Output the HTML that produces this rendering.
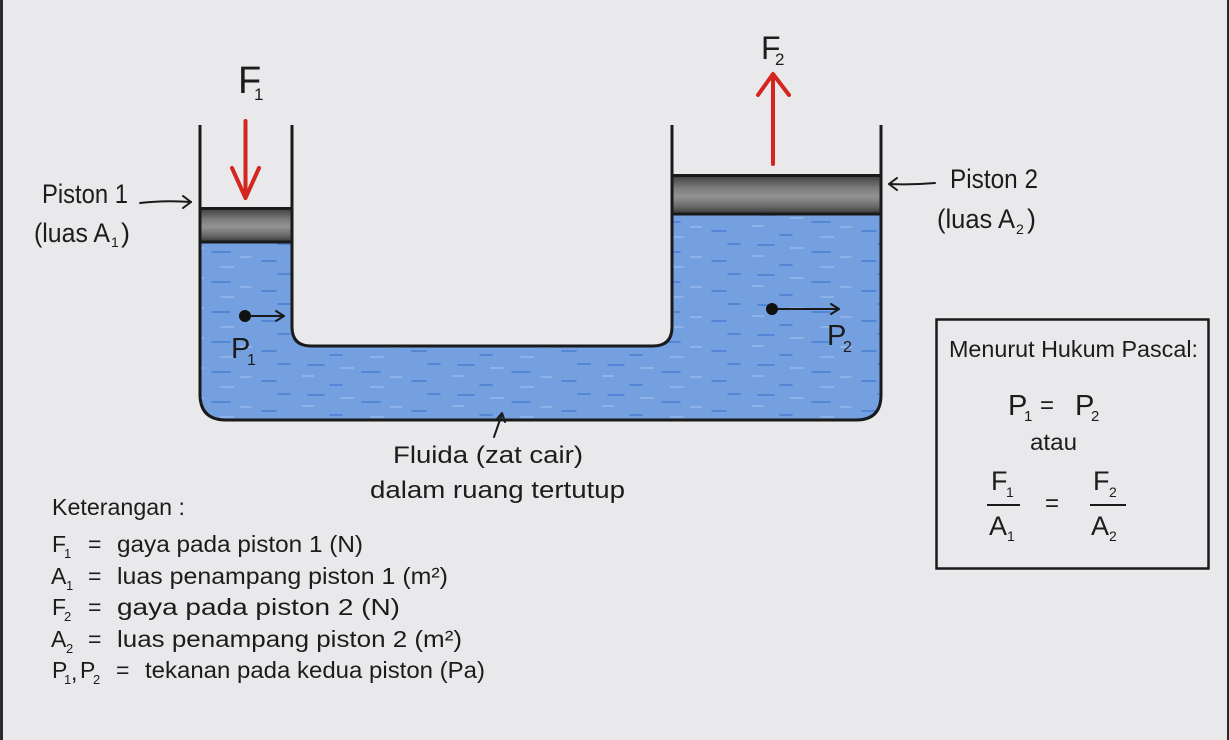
<!DOCTYPE html>
<html><head><meta charset="utf-8">
<style>
html,body{margin:0;padding:0;background:#e9e9eb;}
svg{display:block;}
text{font-family:"Liberation Sans",sans-serif;fill:#1c1c1c;}
</style></head>
<body>
<svg width="1229" height="740" viewBox="0 0 1229 740" xmlns="http://www.w3.org/2000/svg">
<defs>
  <linearGradient id="pg" x1="0" y1="0" x2="0" y2="1">
    <stop offset="0" stop-color="#3c3c3c"/>
    <stop offset="0.35" stop-color="#7e7e7e"/>
    <stop offset="0.55" stop-color="#939393"/>
    <stop offset="0.8" stop-color="#6a6a6a"/>
    <stop offset="1" stop-color="#383838"/>
  </linearGradient>
  <pattern id="dash" width="150" height="30" patternUnits="userSpaceOnUse">
    <g stroke="#2a67cc" stroke-width="1.5" stroke-linecap="round" opacity="0.6">
      <line x1="8" y1="5" x2="24" y2="5"/>
      <line x1="62" y1="12" x2="80" y2="12"/>
      <line x1="112" y1="21" x2="126" y2="21"/>
      <line x1="30" y1="25" x2="42" y2="25"/>
      <line x1="128" y1="4" x2="140" y2="4"/>
    </g>
    <g stroke="#b6cff2" stroke-width="1.4" opacity="0.55">
      <line x1="40" y1="8" x2="54" y2="8"/>
      <line x1="2" y1="16" x2="14" y2="16"/>
      <line x1="90" y1="17" x2="102" y2="17"/>
      <line x1="70" y1="27" x2="84" y2="27"/>
    </g>
  </pattern>
</defs>

<rect width="1229" height="740" fill="#e9e9eb"/>
<rect x="0" y="0" width="3" height="740" fill="#2a2a2a"/>
<rect x="1227" y="0" width="2" height="740" fill="#2a2a2a"/>

<!-- fluid -->
<path d="M200,242 L292,242 L292,327 Q292,346 311,346 L653,346 Q672,346 672,327 L672,214 L881,214 L881,395 Q881,420 856,420 L226,420 Q200,420 200,394 Z" fill="#74a0df"/>
<path d="M200,242 L292,242 L292,327 Q292,346 311,346 L653,346 Q672,346 672,327 L672,214 L881,214 L881,395 Q881,420 856,420 L226,420 Q200,420 200,394 Z" fill="url(#dash)"/>

<!-- pistons -->
<rect x="200" y="208" width="92" height="34" fill="url(#pg)"/>
<line x1="200" y1="208.5" x2="292" y2="208.5" stroke="#1a1a1a" stroke-width="3"/>
<line x1="200" y1="242" x2="292" y2="242" stroke="#1a1a1a" stroke-width="3"/>
<rect x="672" y="175" width="209" height="39" fill="url(#pg)"/>
<line x1="672" y1="175.5" x2="881" y2="175.5" stroke="#1a1a1a" stroke-width="3"/>
<line x1="672" y1="214" x2="881" y2="214" stroke="#1a1a1a" stroke-width="3"/>

<!-- container outline -->
<path d="M200,125 L200,394 Q200,420 226,420 L856,420 Q881,420 881,395 L881,125" fill="none" stroke="#1a1a1a" stroke-width="3"/>
<path d="M292,125 L292,327 Q292,346 311,346 L653,346 Q672,346 672,327 L672,125" fill="none" stroke="#1a1a1a" stroke-width="3"/>

<!-- red force arrows -->
<g stroke="#d3261f" stroke-width="4" fill="none" stroke-linecap="round" stroke-linejoin="round">
  <line x1="245.5" y1="121" x2="245.5" y2="197"/>
  <path d="M232,168 L245.5,198 L259,168"/>
  <line x1="773" y1="164" x2="773" y2="76"/>
  <path d="M758,95 L773,74 L789,95"/>
</g>

<!-- black pointer arrows -->
<g stroke="#1a1a1a" stroke-width="2" fill="none" stroke-linecap="round" stroke-linejoin="round">
  <path d="M140,203 Q165,200 191,202"/>
  <path d="M183,196 L191,202 L183,208"/>
  <path d="M935,183 Q912,185 889,184"/>
  <path d="M897,178 L889,184 L897,190"/>
  <line x1="245" y1="316" x2="284" y2="316"/>
  <path d="M276,311 L284,316 L276,321"/>
  <line x1="772" y1="309" x2="839" y2="309"/>
  <path d="M831,304 L839,309 L831,314"/>
  <path d="M494,437 L502,414"/>
  <path d="M496,420 L502,413 L505,422"/>
</g>
<circle cx="245" cy="316" r="6" fill="#111"/>
<circle cx="772" cy="309" r="6" fill="#111"/>

<!-- force labels -->
<text x="238" y="93" font-size="38">F</text>
<text x="254" y="100" font-size="17">1</text>
<text x="761" y="59" font-size="32">F</text>
<text x="775" y="65" font-size="17">2</text>

<!-- piston labels -->
<text x="42" y="203" font-size="27" textLength="86" lengthAdjust="spacingAndGlyphs">Piston 1</text>
<text x="34" y="242" font-size="27" textLength="76" lengthAdjust="spacingAndGlyphs">(luas A</text>
<text x="111" y="247" font-size="14">1</text>
<text x="121" y="242" font-size="27">)</text>

<text x="950" y="188" font-size="27" textLength="88" lengthAdjust="spacingAndGlyphs">Piston 2</text>
<text x="937" y="228" font-size="27" textLength="78" lengthAdjust="spacingAndGlyphs">(luas A</text>
<text x="1016" y="234" font-size="14">2</text>
<text x="1027" y="228" font-size="27">)</text>

<!-- pressure labels -->
<text x="231" y="358" font-size="29">P</text>
<text x="247" y="365" font-size="16">1</text>
<text x="827" y="345" font-size="29">P</text>
<text x="843" y="352" font-size="16">2</text>

<!-- fluid label -->
<text x="393" y="463" font-size="24" textLength="190" lengthAdjust="spacingAndGlyphs">Fluida (zat cair)</text>
<text x="370" y="498" font-size="24" textLength="255" lengthAdjust="spacingAndGlyphs">dalam ruang tertutup</text>

<!-- Pascal box -->
<rect x="936.5" y="319.5" width="272" height="249" fill="none" stroke="#1a1a1a" stroke-width="2.5"/>
<text x="949" y="357" font-size="23" textLength="249" lengthAdjust="spacingAndGlyphs">Menurut Hukum Pascal:</text>
<text x="1008" y="415" font-size="29">P</text>
<text x="1024" y="421" font-size="15">1</text>
<text x="1040" y="413" font-size="24">=</text>
<text x="1075" y="415" font-size="29">P</text>
<text x="1091" y="421" font-size="15">2</text>
<text x="1030" y="450" font-size="23" textLength="47" lengthAdjust="spacingAndGlyphs">atau</text>

<text x="991" y="490" font-size="27">F</text>
<text x="1006" y="497" font-size="14">1</text>
<line x1="987" y1="505" x2="1020" y2="505" stroke="#1a1a1a" stroke-width="2"/>
<text x="989" y="535" font-size="27">A</text>
<text x="1007" y="541" font-size="14">1</text>
<text x="1045" y="511" font-size="24">=</text>
<text x="1093" y="490" font-size="27">F</text>
<text x="1109" y="497" font-size="14">2</text>
<line x1="1090" y1="505" x2="1126" y2="505" stroke="#1a1a1a" stroke-width="2"/>
<text x="1091" y="535" font-size="27">A</text>
<text x="1109" y="541" font-size="14">2</text>

<!-- legend -->
<text x="52" y="515" font-size="23" textLength="133" lengthAdjust="spacingAndGlyphs">Keterangan :</text>

<text x="52" y="552" font-size="23">F</text>
<text x="64" y="558" font-size="13">1</text>
<text x="88" y="552" font-size="23">=</text>
<text x="117" y="552" font-size="23" textLength="246" lengthAdjust="spacingAndGlyphs">gaya pada piston 1 (N)</text>

<text x="51" y="584" font-size="23">A</text>
<text x="66" y="590" font-size="13">1</text>
<text x="88" y="584" font-size="23">=</text>
<text x="117" y="584" font-size="23" textLength="331" lengthAdjust="spacingAndGlyphs">luas penampang piston 1 (m²)</text>

<text x="52" y="615" font-size="23">F</text>
<text x="64" y="621" font-size="13">2</text>
<text x="88" y="615" font-size="23">=</text>
<text x="117" y="615" font-size="23" textLength="283" lengthAdjust="spacingAndGlyphs">gaya pada piston 2 (N)</text>

<text x="51" y="647" font-size="23">A</text>
<text x="66" y="653" font-size="13">2</text>
<text x="88" y="647" font-size="23">=</text>
<text x="117" y="647" font-size="23" textLength="345" lengthAdjust="spacingAndGlyphs">luas penampang piston 2 (m²)</text>

<text x="52" y="678" font-size="23">P</text>
<text x="64" y="684" font-size="13">1</text>
<text x="71" y="680" font-size="23">,</text>
<text x="80" y="678" font-size="23">P</text>
<text x="93" y="684" font-size="13">2</text>
<text x="116" y="678" font-size="23">=</text>
<text x="145" y="678" font-size="23" textLength="340" lengthAdjust="spacingAndGlyphs">tekanan pada kedua piston (Pa)</text>
</svg>
</body></html>
